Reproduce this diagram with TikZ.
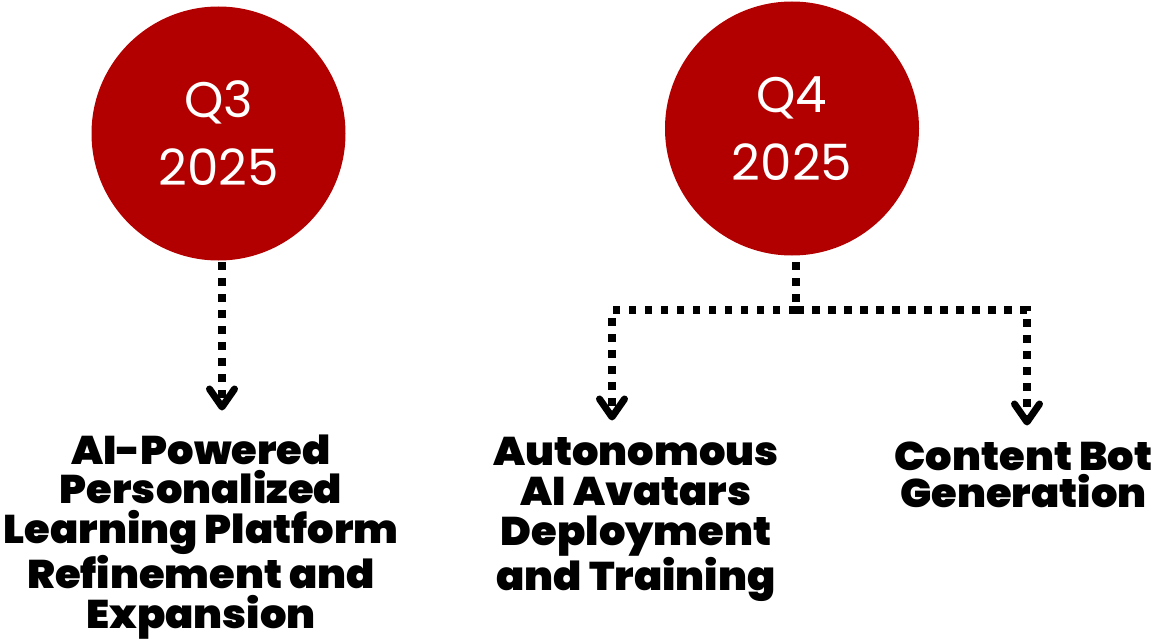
\documentclass[tikz,border=0pt]{standalone}
\usepackage{fontspec}
\setmainfont{Poppins}
\newfontfamily\heavyfont{Poppins Black}[FakeStretch=1.04]
\usetikzlibrary{calc}
\definecolor{qred}{HTML}{B20000}
\tikzset{
  qcirc/.style={circle, fill=qred, minimum size=254pt, inner sep=0pt, text=white, align=center,
    font=\fontsize{50pt}{68pt}\selectfont},
  qlabel/.style={align=center, inner sep=0pt, anchor=base, font=\heavyfont\fontsize{40pt}{39.5pt}\selectfont},
  dotline/.style={line width=7.5pt, dash pattern=on 7.5pt off 8.5pt, line cap=butt},
  chev/.style={line width=7pt, line cap=round, line join=round}
}
\begin{document}
\begin{tikzpicture}[x=1pt,y=-1pt]
\useasboundingbox (0,0) rectangle (1171,642);
\node[qcirc] (q3) at (218.5,133.5) {Q3\\2025};
\node[qcirc] (q4) at (792,128.5) {Q4\\2025};

\node[qlabel] (l3) at (201,628) {AI-Powered\\Personalized\\Learning Platform\\Refinement and\\Expansion};
\node[qlabel, font=\heavyfont\fontsize{40pt}{40pt}\selectfont] (l4a) at (636,590) {Autonomous\\AI Avatars\\Deployment\\and Training};
\node[qlabel, font=\heavyfont\fontsize{40pt}{37pt}\selectfont] (l4b) at (1023.5,507) {Content Bot\\Generation};

\coordinate (t3) at (222,407);
\coordinate (t4a) at (612,417);
\coordinate (t4b) at (1027,422);
\coordinate (j4) at (796,310);

\draw[dotline] (222,262) -- (t3);
\draw[dotline] (796,262) -- (j4) -| (t4a);
\draw[dotline] (j4) -| (t4b);

\foreach \t in {t3,t4a,t4b}{
  \draw[chev] ($(\t)+(-12.5,-18)$) -- (\t) -- ($(\t)+(12.5,-18)$);
}
\end{tikzpicture}
\end{document}
